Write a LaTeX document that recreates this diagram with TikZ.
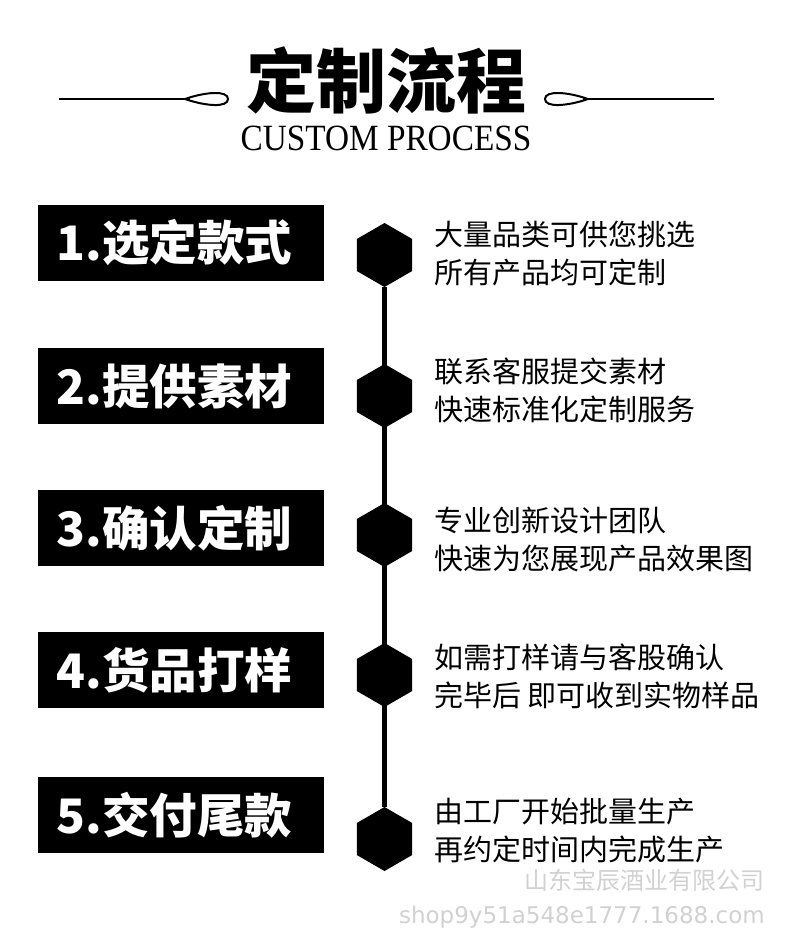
\documentclass[tikz,border=0pt]{standalone}
\usepackage{graphicx}
\usepackage{fontspec}
\setmainfont{Liberation Serif}
\newfontfamily\cjk{Noto Sans CJK SC}
\newfontfamily\wmfont{DejaVu Sans}
\usetikzlibrary{shapes.geometric}
\usetikzlibrary{positioning}

\begin{document}
\begin{tikzpicture}[x=1pt, y=-1pt,
  stepbox/.style={fill=black, text=white, inner xsep=19pt, inner ysep=0pt,
    minimum height=76pt, text width=248pt, align=left,
    font=\cjk\bfseries\fontsize{47.5}{50}\selectfont},
  hexnode/.style={regular polygon, regular polygon sides=6, shape border rotate=30,
    fill=black, minimum size=64pt, inner sep=0pt},
  desc/.style={anchor=west, align=left, inner sep=0pt,
    font=\cjk\fontsize{29}{38}\selectfont},
  wmark/.style={anchor=east, inner sep=0pt, text=black!18}]
  \useasboundingbox (0,0) rectangle (790,948);

  % Title with ornaments
  \node[font=\cjk\bfseries\fontsize{70}{72}\selectfont] (title) at (386,80) {定制流程};
  \node[font=\fontsize{37}{40}\selectfont] (subtitle) at (386,138) {\scalebox{0.9}[1]{CUSTOM PROCESS}};

  \draw[line width=2.5pt] (59,99) -- (190,99);
  \draw[line width=2pt] (185,99) .. controls (205,92) and (228,90) .. (228,99)
    .. controls (228,108) and (205,106) .. (185,99);
  \draw[line width=2.5pt] (714,99) -- (583,99);
  \draw[line width=2pt] (588,99) .. controls (568,92) and (545,90) .. (545,99)
    .. controls (545,108) and (568,106) .. (588,99);

  % Steps on the left
  \node[stepbox] (s1) at (180.5,243) {1.选定款式};
  \node[stepbox] (s2) at (180.5,386) {2.提供素材};
  \node[stepbox] (s3) at (180.5,528) {3.确认定制};
  \node[stepbox] (s4) at (180.5,670) {4.货品打样};
  \node[stepbox] (s5) at (180.5,815) {5.交付尾款};

  % Timeline
  \node[hexnode] (h1) at (384.5,255) {};
  \node[hexnode] (h2) at (384.5,396) {};
  \node[hexnode] (h3) at (384.5,535) {};
  \node[hexnode] (h4) at (384.5,675) {};
  \node[hexnode] (h5) at (384.5,839) {};
  \draw[line width=5pt] (h1) -- (h5);

  % Descriptions
  \node[desc] (d1) at (434,254) {大量品类可供您挑选\\所有产品均可定制};
  \node[desc] (d2) at (434,390) {联系客服提交素材\\快速标准化定制服务};
  \node[desc] (d3) at (434,540) {专业创新设计团队\\快速为您展现产品效果图};
  \node[desc] (d4) at (434,676) {如需打样请与客股确认\\完毕后 即可收到实物样品};
  \node[desc] (d5) at (434,831) {由工厂开始批量生产\\再约定时间内完成生产};

  % Watermark
  \node[wmark, font=\cjk\fontsize{24}{26}\selectfont] (w1) at (765,880) {山东宝辰酒业有限公司};
  \node[wmark, font=\wmfont\fontsize{23}{26}\selectfont] (w2) at (765,917) {shop9y51a548e1777.1688.com};
\end{tikzpicture}
\end{document}
